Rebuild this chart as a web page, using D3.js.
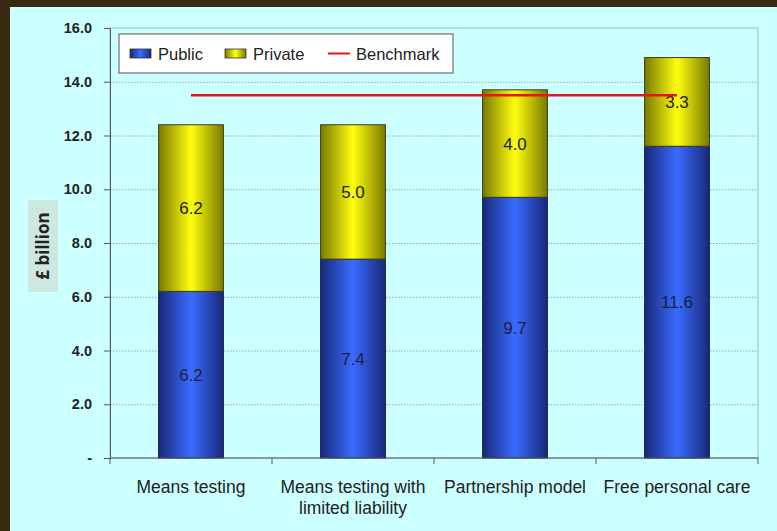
<!DOCTYPE html>
<html>
<head>
<meta charset="utf-8">
<script src="https://cdn.jsdelivr.net/npm/d3@7"></script>
<style>
  body { margin: 0; background: #3a2a12; }
  svg { display: block; font-family: Arial, "Liberation Sans", sans-serif; }
  .grid line { stroke: #a0a8a8; stroke-dasharray: 1.5 1.5; }
  .grid path { display: none; }
  .y.axis text { font-weight: bold; font-size: 14.5px; fill: #222; }
  .x.axis text { font-size: 17.5px; fill: #222; }
  .axis path, .axis line { stroke: #556; }
</style>
</head>
<body>
<svg class="chart"></svg>
<script>
var categories = ["Means testing", "Means testing with|limited liability", "Partnership model", "Free personal care"];
var publicValues = [6.2, 7.4, 9.7, 11.6];
var privateValues = [6.2, 5.0, 4.0, 3.3];
var benchmark = 13.5;
var yTicks = [0, 2, 4, 6, 8, 10, 12, 14, 16];

var W = 777, H = 531;
var margin = {top: 28, right: 19, bottom: 73, left: 110},
    width = W - margin.left - margin.right,
    height = H - margin.top - margin.bottom;

var svg = d3.select(".chart").attr("width", W).attr("height", H);

var defs = svg.append("defs");
function hgrad(id, edge, mid) {
  var g = defs.append("linearGradient").attr("id", id)
      .attr("x1", "0%").attr("x2", "100%").attr("y1", "0%").attr("y2", "0%");
  g.append("stop").attr("offset", "0%").attr("stop-color", edge);
  g.append("stop").attr("offset", "50%").attr("stop-color", mid);
  g.append("stop").attr("offset", "100%").attr("stop-color", edge);
}
hgrad("gBlue", "#18287a", "#3a6cff");
hgrad("gYellow", "#7a7a00", "#ffff10");

// background
svg.append("rect").attr("x", 10).attr("y", 7).attr("width", W - 10).attr("height", H - 7)
    .attr("fill", "#ccffff");

var g = svg.append("g").attr("transform", "translate(" + margin.left + "," + margin.top + ")");

var x = d3.scaleBand().domain(d3.range(categories.length)).range([0, width]).paddingInner(0.6).paddingOuter(0.3);
var xc = d3.scaleBand().domain(d3.range(categories.length)).range([0, width]);
var y = d3.scaleLinear().domain([0, 16]).range([height, 0]);

// plot area border
g.append("rect").attr("width", width).attr("height", height)
    .attr("fill", "none").attr("stroke", "#a8b8b8").attr("stroke-width", 1);

// gridlines
g.append("g").attr("class", "grid")
    .call(d3.axisLeft(y).tickValues(yTicks.slice(1, -1)).tickSize(-width).tickFormat(""));

// y axis
g.append("g").attr("class", "y axis")
    .call(d3.axisLeft(y).tickValues(yTicks).tickSize(6).tickPadding(12)
      .tickFormat(function(d) { return d === 0 ? "-" : d3.format(".1f")(d); }));

// bars
var bars = g.selectAll(".bar").data(categories).enter().append("g").attr("class", "bar");
bars.append("rect")
    .attr("x", function(d, i) { return x(i); })
    .attr("width", x.bandwidth())
    .attr("y", function(d, i) { return y(publicValues[i]); })
    .attr("height", function(d, i) { return y(0) - y(publicValues[i]); })
    .attr("fill", "url(#gBlue)").attr("stroke", "#1a2340").attr("stroke-width", 1);
bars.append("rect")
    .attr("x", function(d, i) { return x(i); })
    .attr("width", x.bandwidth())
    .attr("y", function(d, i) { return y(publicValues[i] + privateValues[i]); })
    .attr("height", function(d, i) { return y(publicValues[i]) - y(publicValues[i] + privateValues[i]); })
    .attr("fill", "url(#gYellow)").attr("stroke", "#3a3a20").attr("stroke-width", 1);

bars.append("text")
    .attr("x", function(d, i) { return x(i) + x.bandwidth() / 2; })
    .attr("y", function(d, i) { return y(publicValues[i] / 2); })
    .attr("dy", ".35em").attr("text-anchor", "middle")
    .style("font-size", "17px").style("fill", "#1a2244")
    .text(function(d, i) { return publicValues[i].toFixed(1); });
bars.append("text")
    .attr("x", function(d, i) { return x(i) + x.bandwidth() / 2; })
    .attr("y", function(d, i) { return y(publicValues[i] + privateValues[i] / 2); })
    .attr("dy", ".35em").attr("text-anchor", "middle")
    .style("font-size", "17px").style("fill", "#222")
    .text(function(d, i) { return privateValues[i].toFixed(1); });

// x axis
var xAxis = g.append("g").attr("class", "x axis").attr("transform", "translate(0," + height + ")");
xAxis.append("line").attr("x1", 0).attr("x2", width).attr("stroke", "#556");
xAxis.selectAll(".tick").data(d3.range(categories.length + 1)).enter().append("line")
    .attr("x1", function(d) { return d * xc.bandwidth(); })
    .attr("x2", function(d) { return d * xc.bandwidth(); })
    .attr("y1", 0).attr("y2", 6).attr("stroke", "#556");
var xl = xAxis.selectAll(".lbl").data(categories).enter().append("text")
    .attr("text-anchor", "middle")
    .attr("x", function(d, i) { return xc(i) + xc.bandwidth() / 2; })
    .attr("y", 35);
xl.each(function(d) {
  var t = d3.select(this);
  d.split("|").forEach(function(s, k) {
    t.append("tspan").attr("x", t.attr("x")).attr("dy", k === 0 ? 0 : 21).text(s);
  });
});

// benchmark line
g.append("line")
    .attr("x1", x(0) + x.bandwidth() / 2)
    .attr("x2", x(categories.length - 1) + x.bandwidth() / 2)
    .attr("y1", y(benchmark)).attr("y2", y(benchmark))
    .attr("stroke", "#e8141c").attr("stroke-width", 2.5);

// y label
var yl = svg.append("g").attr("transform", "translate(43,246)");
yl.append("rect").attr("x", -15).attr("y", -46).attr("width", 30).attr("height", 92).attr("fill", "#cce8e0");
yl.append("text").attr("transform", "rotate(-90)").attr("text-anchor", "middle").attr("dy", ".35em")
    .style("font-weight", "bold").style("font-size", "17px").style("font-family", "'Open Sans', sans-serif")
    .style("fill", "#222").text("£ billion");

// legend
var lg = svg.append("g").attr("transform", "translate(119,34)");
lg.append("rect").attr("width", 334).attr("height", 39).attr("fill", "#fff").attr("stroke", "#555");
var items = [{name: "Public", fill: "url(#gBlue)", x: 11}, {name: "Private", fill: "url(#gYellow)", x: 106}, {name: "Benchmark", x: 209}];
items.forEach(function(it) {
  if (it.fill) {
    lg.append("rect").attr("x", it.x).attr("y", 15).attr("width", 21).attr("height", 9)
      .attr("fill", it.fill).attr("stroke", "#333").attr("stroke-width", 0.8);
  } else {
    lg.append("line").attr("x1", it.x).attr("x2", it.x + 22).attr("y1", 19.5).attr("y2", 19.5)
      .attr("stroke", "#e8141c").attr("stroke-width", 2);
  }
  lg.append("text").attr("x", it.x + 28).attr("y", 20).attr("dy", ".35em")
    .style("font-size", "16.5px").style("fill", "#222").text(it.name);
});
</script>
</body>
</html>
